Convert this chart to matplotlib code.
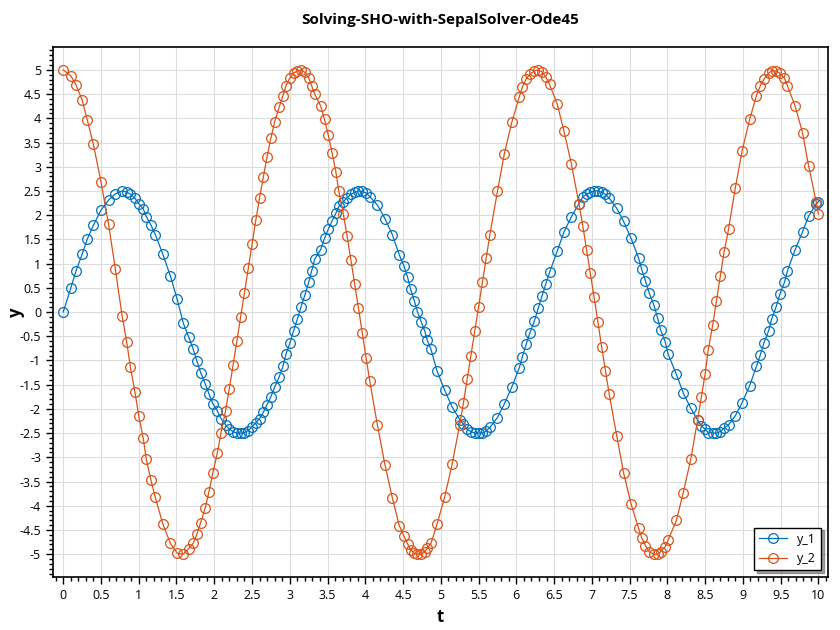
import matplotlib.pyplot as plt
from matplotlib.ticker import MultipleLocator, FuncFormatter

plt.rcParams['font.family'] = ['Open Sans', 'DejaVu Sans']
plt.rcParams['axes.unicode_minus'] = False

# solver output
t = [0, 0.10, 0.17, 0.25, 0.32, 0.40, 0.50, 0.60, 0.69, 0.78, 0.84, 0.89, 0.95, 1.00, 1.06, 1.10, 1.16, 1.22, 1.32, 1.42, 1.51, 1.59,
     1.66, 1.72, 1.77, 1.82, 1.88, 1.93, 1.98, 2.04, 2.09, 2.15, 2.20, 2.25, 2.30, 2.35, 2.40, 2.45, 2.50, 2.55, 2.60, 2.65, 2.70,
     2.75, 2.80, 2.86, 2.91, 2.95, 3.00, 3.05, 3.10, 3.15, 3.20, 3.25, 3.29, 3.33,
     3.41, 3.46, 3.51, 3.56, 3.61, 3.65, 3.71, 3.76, 3.81, 3.86, 3.91, 3.96, 4.01, 4.06, 4.16, 4.26, 4.36, 4.45, 4.51, 4.56,
     4.60, 4.65, 4.69, 4.74, 4.79, 4.82, 4.87, 4.95, 5.05,
     5.15, 5.25, 5.30, 5.35, 5.40, 5.45, 5.50, 5.55, 5.60, 5.65, 5.75, 5.84, 5.94, 6.04, 6.08, 6.13, 6.18, 6.24, 6.29, 6.34,
     6.39, 6.44, 6.54, 6.63, 6.73,
     6.83, 6.88, 6.93, 6.98, 7.03, 7.08, 7.13, 7.18, 7.23, 7.33, 7.42, 7.52, 7.62, 7.66, 7.71, 7.76, 7.82, 7.87, 7.91, 7.97,
     8.01, 8.12, 8.21, 8.31, 8.40, 8.45, 8.50,
     8.54, 8.60, 8.65, 8.70, 8.75, 8.81, 8.90, 8.99, 9.09, 9.18, 9.23, 9.28, 9.34, 9.38, 9.44, 9.49, 9.55, 9.59, 9.69, 9.79,
     9.87, 9.97, 10.0]

y_1 = [0.00, 0.49, 0.85, 1.19, 1.51, 1.79, 2.10, 2.31, 2.44, 2.50, 2.48, 2.43, 2.35, 2.24, 2.13, 1.97, 1.80, 1.60, 1.19, 0.74, 0.26, -0.23,
       -0.51, -0.76, -1.01, -1.25, -1.48, -1.69, -1.89, -2.04, -2.20, -2.33, -2.42, -2.47, -2.50, -2.50, -2.49, -2.45, -2.37, -2.29,
       -2.20, -2.07, -1.91, -1.75, -1.55, -1.34, -1.12, -0.87, -0.65, -0.39, -0.15, 0.11, 0.35, 0.61, 0.85, 1.09,
       1.29, 1.52, 1.71, 1.88, 2.04, 2.18, 2.28, 2.36, 2.43, 2.47, 2.50, 2.49, 2.46, 2.38, 2.21, 1.93, 1.59, 1.18, 0.96, 0.72,
       0.47, 0.23, 0.01, -0.20, -0.41, -0.58, -0.77, -1.22, -1.61,
       -1.96, -2.22, -2.32, -2.42, -2.47, -2.50, -2.50, -2.50, -2.46, -2.38, -2.18, -1.90, -1.55, -1.15, -0.92, -0.67, -0.43,
       -0.18, 0.08, 0.33, 0.58, 0.82, 1.25, 1.65, 1.97,
       2.24, 2.38, 2.43, 2.47, 2.50, 2.50, 2.47, 2.43, 2.35, 2.14, 1.87, 1.52, 1.11, 0.88, 0.64, 0.39, 0.15, -0.12, -0.37, -0.61,
       -0.87, -1.29, -1.67, -1.99, -2.23, -2.35, -2.42,
       -2.49, -2.50, -2.50, -2.47, -2.40, -2.33, -2.14, -1.87, -1.52, -1.12, -0.89, -0.63, -0.39, -0.15, 0.11, 0.37, 0.61, 0.85,
       1.28, 1.66, 1.98, 2.23, 2.28]

y_2 = [5.00, 4.88, 4.69, 4.38, 3.96, 3.46, 2.69, 1.82, 0.89, -0.08, -0.61, -1.14, -1.65, -2.14, -2.61, -3.04, -3.46, -3.83, -4.38, -4.78, -4.98, -5.00,
       -4.89, -4.78, -4.59, -4.35, -4.05, -3.71, -3.33, -2.92, -2.49, -2.04, -1.58, -1.09, -0.60, -0.10, 0.40, 0.90, 1.40, 1.89,
       2.36, 2.79, 3.21, 3.59, 3.93, 4.23, 4.47, 4.67, 4.83, 4.93, 4.98, 5.00, 4.95, 4.84, 4.67, 4.50,
       4.25, 3.98, 3.65, 3.29, 2.90, 2.49, 2.02, 1.56, 1.07, 0.57, 0.08, -0.43, -0.94, -1.43, -2.33, -3.15, -3.85, -4.41, -4.62, -4.79,
       -4.91, -4.98, -5.00, -5.00, -4.95, -4.88, -4.78, -4.38, -3.83,
       -3.14, -2.33, -1.87, -1.38, -0.90, -0.39, 0.11, 0.61, 1.12, 1.60, 2.49, 3.26, 3.92, 4.45, 4.65, 4.81, 4.91, 4.98, 5.00, 4.96,
       4.85, 4.70, 4.30, 3.74, 3.05,
       2.23, 1.78, 1.29, 0.80, 0.30, -0.21, -0.72, -1.21, -1.70, -2.56, -3.32, -3.97, -4.47, -4.66, -4.83, -4.95, -5.00, -5.00, -4.95, -4.85,
       -4.71, -4.30, -3.73, -3.04, -2.23, -1.76, -1.28,
       -0.79, -0.27, 0.23, 0.74, 1.23, 1.71, 2.57, 3.33, 3.98, 4.47, 4.67, 4.81, 4.93, 4.98, 4.98, 4.93, 4.83, 4.67, 4.26, 3.70,
       3.02, 2.28, 2.02]

fig = plt.figure(figsize=(8.4, 6.3), dpi=100)
ax = fig.add_axes([0.063, 0.0835, 0.923, 0.8425])

ax.plot(t, y_1, color="#0072BD", lw=0.9, marker="o", ms=7, mfc="none", mew=0.9, label="y_1")
ax.plot(t, y_2, color="#D95319", lw=0.9, marker="o", ms=7, mfc="none", mew=0.9, label="y_2")

ax.set_xlim(-0.136, 10.13)
ax.set_ylim(-5.48, 5.48)

ax.xaxis.set_major_locator(MultipleLocator(0.5))
ax.xaxis.set_minor_locator(MultipleLocator(0.1))
ax.yaxis.set_major_locator(MultipleLocator(0.5))
ax.yaxis.set_minor_locator(MultipleLocator(0.1))
fmt = FuncFormatter(lambda v, p: "%g" % round(v, 2) if abs(v) > 1e-9 else "0")
ax.xaxis.set_major_formatter(fmt)
ax.yaxis.set_major_formatter(fmt)
ax.tick_params(which="major", length=5, width=1, labelsize=9, direction="out")
ax.tick_params(which="minor", length=3, width=1, direction="out")
ax.grid(which="major", color="#dcdcdc", lw=0.8)
ax.set_axisbelow(True)
for s in ax.spines.values():
    s.set_linewidth(1.2)

ax.set_title("Solving-SHO-with-SepalSolver-Ode45", fontsize=11, fontweight="bold", pad=16)
ax.set_xlabel("t", fontsize=12, fontweight="bold")
ax.set_ylabel("y", fontsize=12, fontweight="bold")
ax.yaxis.set_label_coords(-0.036, 0.5)

leg = ax.legend(loc="lower right", fontsize=9, frameon=True, fancybox=False, shadow=True,
                borderaxespad=0.6, handlelength=2.2)
leg.get_frame().set_edgecolor("black")
leg.get_frame().set_linewidth(1.0)

fig.savefig("out.png", dpi=100)
